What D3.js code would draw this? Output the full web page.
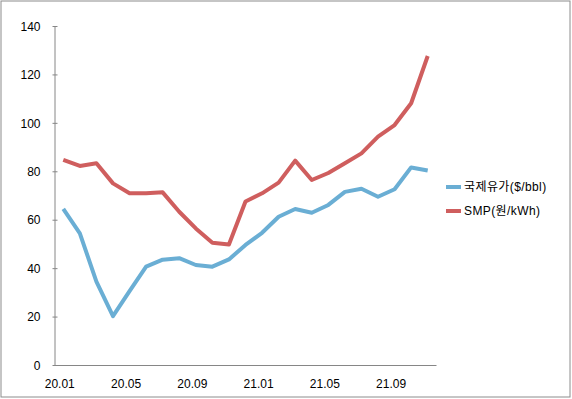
<!DOCTYPE html>
<html>
<head>
<meta charset="utf-8">
<script src="https://cdn.jsdelivr.net/npm/d3@7"></script>
<style>
  body { margin: 0; background: #fff; }
  text { font-family: "Liberation Sans", Arial, "Noto Sans CJK KR", sans-serif; font-size: 12px; fill: #000; }
</style>
</head>
<body>
<div id="container"></div>
<script>
// Monthly categories, 20.01 .. 21.11
const months = ["20.01","20.02","20.03","20.04","20.05","20.06","20.07","20.08","20.09","20.10","20.11","20.12",
  "21.01","21.02","21.03","21.04","21.05","21.06","21.07","21.08","21.09","21.10","21.11"];
const tickLabels = ["20.01","20.05","20.09","21.01","21.05","21.09"];
const yTicks = [0, 20, 40, 60, 80, 100, 120, 140];

// series values
const oilPrice = [64.5, 54.4, 34.4, 20.2, 30.5, 40.6, 43.5, 44.1, 41.3, 40.6, 43.6, 49.6,
  54.6, 61.2, 64.4, 62.9, 66.1, 71.5, 72.8, 69.5, 72.6, 81.6, 80.3];
const smp = [84.7, 82.2, 83.3, 75.0, 70.9, 70.9, 71.3, 63.3, 56.4, 50.5, 49.8, 67.5,
  70.9, 75.3, 84.4, 76.4, 79.3, 83.3, 87.4, 94.3, 99.1, 108.1, 127.6];

const series = [
  { name: "국제유가($/bbl)", values: oilPrice, color: "#6aaed4" },
  { name: "SMP(원/kWh)", values: smp, color: "#cf5e5e" }
];

const width = 572, height = 399;
const m = { left: 55, right: 436, top: 26, bottom: 365 };

const svg = d3.create("svg")
  .attr("width", width)
  .attr("height", height);
container.append(svg.node());

// outer border
svg.append("rect")
  .attr("x", 1).attr("y", 1)
  .attr("width", 569).attr("height", 396)
  .attr("fill", "none")
  .attr("stroke", "#8c8c8c");

const x = d3.scaleBand()
  .domain(months)
  .range([m.left, m.right]);

const y = d3.scaleLinear()
  .domain([0, 140])
  .range([m.bottom, m.top]);

// y axis, ticks crossing the line
const yAxis = svg.append("g")
  .attr("transform", `translate(${m.left},0)`)
  .call(d3.axisLeft(y).tickValues(yTicks).tickSize(2.5).tickPadding(12).tickSizeOuter(0));
yAxis.selectAll("line").attr("x2", 2.5).attr("x1", -2.5);
yAxis.select(".domain").attr("d", `M0,${m.top}V${m.bottom}`);
yAxis.selectAll("path, line").attr("stroke", "#868686");
yAxis.selectAll("text").attr("font-size", 12).attr("font-family", null).attr("dy", "0.35em");

// x axis, labels only every 4 months
const xAxis = svg.append("g")
  .attr("transform", `translate(0,${m.bottom})`)
  .call(d3.axisBottom(x).tickValues(tickLabels).tickSize(0).tickPadding(14).tickSizeOuter(0));
xAxis.select(".domain").attr("stroke", "#868686");
xAxis.selectAll("text").attr("font-size", 12).attr("font-family", null).attr("dx", "-3.5");

// lines
const line = d3.line()
  .x((d, i) => x(months[i]) + x.bandwidth() / 2)
  .y(d => y(d));

svg.selectAll(".series")
  .data(series)
  .join("path")
  .attr("class", "series")
  .attr("d", d => line(d.values))
  .attr("fill", "none")
  .attr("stroke", d => d.color)
  .attr("stroke-width", 4)
  .attr("stroke-linejoin", "round");

// legend
const legend = svg.selectAll(".legend")
  .data(series)
  .join("g")
  .attr("class", "legend")
  .attr("transform", (d, i) => `translate(446,${187 + i * 24})`);
legend.append("line")
  .attr("x1", 0).attr("x2", 15)
  .attr("stroke", d => d.color)
  .attr("stroke-width", 4);
legend.append("text")
  .attr("x", 18)
  .attr("dy", "0.35em")
  .attr("letter-spacing", "0.4px")
  .text(d => d.name);
</script>
</body>
</html>
